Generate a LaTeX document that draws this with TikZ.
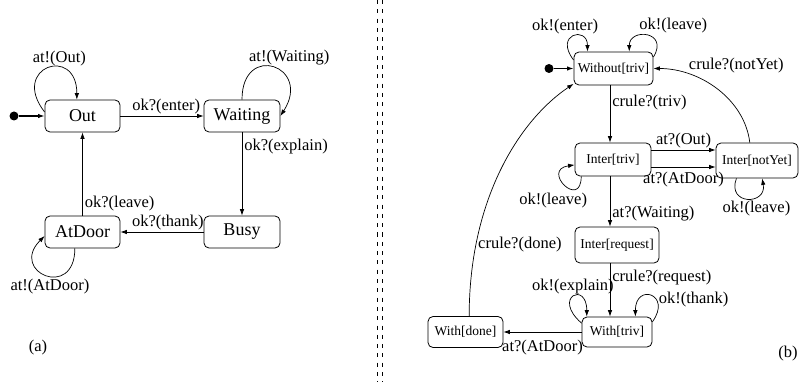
\documentclass[tikz,border=0pt]{standalone}
\usepackage{fontspec}
\setmainfont{Liberation Serif}
\usetikzlibrary{arrows.meta, calc}
\tikzset{
    loc/.style ={rectangle, rounded corners=5pt, draw, line width=0.8pt, inner sep=0pt},
    bigloc/.style ={loc, minimum height=32pt, font=\fontsize{18}{20}\selectfont},
    smallloc/.style ={loc, minimum height=33pt, font=\fontsize{13.5}{15}\selectfont},
    initdot/.style = {circle, fill, inner sep=0pt, minimum size=9pt},
    el/.style = {inner sep=2pt, font=\fontsize{16.5}{18}\selectfont},
    divider/.style = {line width=0.8pt, dash pattern=on 4pt off 5.3pt}
    }

\begin{document}
\begin{tikzpicture}[
      x = 1pt, y = -1pt, % pixel grid
      > = {Latex[length=6.5pt, width=4.5pt]}, % arrow head style
      line width = 0.7pt
    ]
    \useasboundingbox (0,0) rectangle (800,382);

    % (a)
    \node[bigloc, minimum width=75pt] (out) at (82.5,116) {Out};
    \node[bigloc, minimum width=76pt] (waiting) at (242,116) {Waiting};
    \node[bigloc, minimum width=75pt] (atdoor) at (82.5,232) {AtDoor};
    \node[bigloc, minimum width=76pt] (busy) at (242,232) {Busy};
    \node[initdot] (inita) at (14,116) {};

    \path[->, line width=1.6pt] (inita) edge (out);
    \path[->] (out) edge node[el, above, pos=0.55] {ok?(enter)} (waiting);
    \path[->] (waiting) edge node[el, right, pos=0.17] {ok?(explain)} (busy);
    \path[->] (busy) edge node[el, above, pos=0.43] {ok?(thank)} (atdoor);
    \path[->] (atdoor) edge node[el, right, pos=0.15] {ok?(leave)} (out);

    \draw[->] (out.174) .. controls +(-35,-45) and +(0,-55) .. (out.109)
        node[el, above, pos=0.65] {at!(Out)};
    \draw[->] (waiting.north) .. controls +(0,-58) and +(32,-50) .. (waiting.east)
        node[el, above, pos=0.5, xshift=16pt] {at!(Waiting)};
    \draw[->] (atdoor.245) .. controls +(0,52) and +(-36,36) .. (atdoor.186)
        node[el, below, pos=0.45] {at!(AtDoor)};

    \node[el] (la) at (38,348) {(a)};

    % separator
    \draw[divider] (377,0) -- (377,382);
    \draw[divider] (382,0) -- (382,382);

    % (b)
    \coordinate (spine) at (610,0);
    \node[smallloc, minimum width=79pt] (without) at (613.5,68.5) {Without[triv]};
    \node[smallloc, minimum width=76pt] (itriv) at (613,159.5) {Inter[triv]};
    \node[smallloc, minimum width=82pt, minimum height=35pt] (inotyet) at (757,160.5) {Inter[notYet]};
    \node[smallloc, minimum width=84pt, minimum height=36pt] (ireq) at (617,245) {Inter[request]};
    \node[smallloc, minimum width=70pt, minimum height=30pt] (wtriv) at (617,332) {With[triv]};
    \node[smallloc, minimum width=75pt, minimum height=31pt] (wdone) at (465.5,332) {With[done]};
    \node[initdot] (initb) at (549,68.5) {};

    \path[->, line width=1.6pt] (initb) edge (without);
    \path[->] (spine |- without.south) edge node[el, right, pos=0.3] {crule?(triv)} (spine |- itriv.north);
    \path[->] ([yshift=9.5pt]itriv.east) edge node[el, above] {at?(Out)}
        ([yshift=9.5pt]itriv.east -| inotyet.west);
    \path[->] ([yshift=-7.5pt]itriv.east) edge node[el, below=3pt] {at?(AtDoor)}
        ([yshift=-7.5pt]itriv.east -| inotyet.west);
    \path[->] (spine |- itriv.south) edge node[el, right, pos=0.75] {at?(Waiting)} (spine |- ireq.north);
    \path[->] (spine |- ireq.south) edge node[el, right, pos=0.26] {crule?(request)} (spine |- wtriv.north);
    \path[->] (wtriv) edge node[el, below=6pt] {at?(AtDoor)} (wdone);

    \draw[->] (inotyet.112) .. controls +(-5,-43) and +(47,0) .. (without.east)
        node[el, above right, pos=0.75, inner sep=1pt] {crule?(notYet)};
    \draw[->] (wdone.77) .. controls +(0,-116) and +(-55,37) .. (without.201)
        node[el, right, pos=0.22] {crule?(done)};

    % self loops
    \draw[->] (without.168) .. controls +(-20,-26) and +(0,-26) .. (without.147)
        node[el, above, pos=0.5, xshift=-8pt] {ok!(enter)};
    \draw[->] (without.16) .. controls +(16,-26) and +(0,-24) .. (without.47)
        node[el, above, pos=0.5, xshift=26pt] {ok!(leave)};
    \draw[->] (itriv.208) .. controls +(0,34) and +(-34,5) .. (itriv.188)
        node[el, below=5pt, pos=0.5, xshift=-12pt] {ok!(leave)};
    \draw[->] (inotyet.221) .. controls +(-10,27) and +(5,27) .. (inotyet.286)
        node[el, below, pos=0.5, xshift=9pt] {ok!(leave)};
    \draw[->] (wtriv.166) .. controls +(-30,-26) and +(0,-36) .. (wtriv.153)
        node[el, above, pos=0.5] {ok!(explain)};
    \draw[->] (wtriv.16) .. controls +(20,-28) and +(0,-34) .. (wtriv.40)
        node[el, right, pos=0.35] {ok!(thank)};

    \node[el] (lb) at (788,354) {(b)};
\end{tikzpicture}
\end{document}
